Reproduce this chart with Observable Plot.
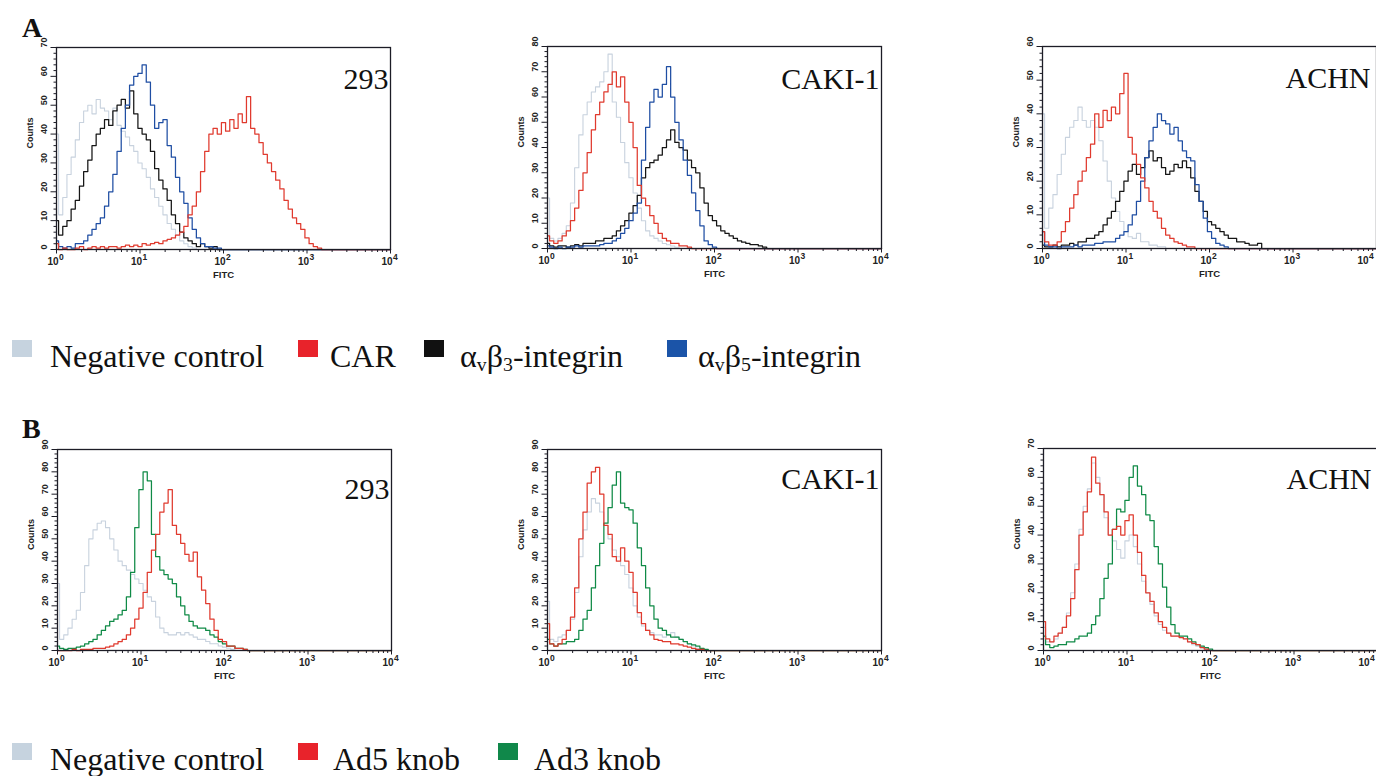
<!DOCTYPE html>
<html><head><meta charset="utf-8">
<script src="https://cdn.jsdelivr.net/npm/d3@7"></script>
<script src="https://cdn.jsdelivr.net/npm/@observablehq/plot@0.6"></script>
<style>
html,body{margin:0;padding:0;background:#fff;}
#fig{position:relative;width:1376px;height:776px;overflow:hidden;background:#fff;}
.panel{position:absolute;}
.panel svg{max-width:none !important;display:block;}
.tag{position:absolute;font-family:"Liberation Serif","Times New Roman",serif;font-weight:bold;font-size:28px;line-height:1;color:#111;}
.leg{position:absolute;font-family:"Liberation Serif","Times New Roman",serif;font-size:32px;line-height:1;color:#111;white-space:nowrap;}
.sw{position:absolute;width:20px;height:17px;}
.leg sub{font-size:0.62em;vertical-align:-0.22em;line-height:0;}
</style></head>
<body><div id="fig"></div>
<script>
// FITC channel values (log-spaced channels, 20 per decade)
const channels = [1,1.122,1.259,1.413,1.585,1.778,1.995,2.239,2.512,2.818,3.162,3.548,3.981,4.467,5.012,5.623,6.31,7.079,7.943,8.913,
  10,11.22,12.59,14.13,15.85,17.78,19.95,22.39,25.12,28.18,31.62,35.48,39.81,44.67,50.12,56.23,63.1,70.79,79.43,89.13,
  100,112.2,125.9,141.3,158.5,177.8,199.5,223.9,251.2,281.8,316.2,354.8,398.1,446.7,501.2,562.3,631,707.9,794.3,891.3,
  1000,1122,1259,1413,1585,1778,1995,2239,2512,2818,3162,3548,3981,4467,5012,5623,6310,7079,7943,8913,10000];

// Panel A – 293
const a293Neg = [40,12,18,26,32,38,44,48,50,47,52,49,48,45,49,43,41,39,36,34,30,28,25,21,18,15,12,9,7,5,3,2,1,0.5];
const a293B3  = [10,5,8,10,14,17,22,27,31,36,40,42,45,43,48,50,52,49,55,47,42,40,38,34,28,24,21,17,12,9,6,4,3,2,1,2,1,0.5,1,0];
const a293B5  = [3,1,0.5,1,0.5,2,2,3,5,7,9,11,15,20,26,34,42,50,57,60,61,64,58,50,42,44,45,36,32,25,20,16,11,7,4,2,1,1,0.5,0.5,0];
const a293CAR = [2,0,0.5,0,0,0.5,1,0,0.5,1,0.5,1,0.5,1,1,0.5,1,1.5,1,1.5,1,2,1.5,2,2.5,2,3,3.5,4,5,6,8,12,15,20,27,34,40,42,40,44,41,45,42,47,44,53,42,40,37,33,30,27,24,21,17,14,11,9,7,4,2,1,0.5,0];
// Panel A – CAKI-1
const cakiNegA = [20,4,3,4,6,9,18,32,45,53,58,62,64,66,70,77,58,52,42,34,28,22,16,11,7,5,4,3,2,1.5,1,0.5,0];
const cakiB3   = [2,1,0.5,1,1,0.5,1,1.5,1,2,2,2,3,3,4,4,5,7,9,11,14,17,21,28,32,34,35,37,40,43,47,42,40,39,35,32,30,24,18,13,11,9,7,6,5,4,3,2.5,2,1.5,1.5,1,0.5,0];
const cakiB5   = [1,0.5,0,0.5,0,0.5,0.5,1,0.5,1,1,1,1,1.5,2,2,3,4,6,8,11,14,18,35,48,58,63,60,65,72,60,50,43,35,29,22,15,9,3,1.5,0.5,0];
const cakiCAR  = [5,3,2,3,5,7,11,16,23,30,38,47,53,58,62,65,70,64,68,58,50,40,25,20,17,13,10,6,4,3,2,2,1,1,0.5,0];
// Panel A – ACHN
const achnNegA = [40,6,12,16,22,28,33,36,38,42,38,36,38,36,32,26,20,15,11,8,5,3.5,3,4.5,2,2,1,1,0.5,0.5,0];
const achnB3   = [1,0.5,0.5,1,0.5,1,1,1.5,1,2,2,3,3,4,5,7,9,11,14,17,20,23,25,22,24,27,29,26,27,24,22,23,25,24,26,24,21,17,14,11,8,7,6,5,4,3,3,2,2,1.5,1,1,1.5,0];
const achnB5   = [5,1,0.5,0.5,0,0.5,0.5,0.5,1,0.5,1,1,1,1.5,1.5,2,2,2,3,4,5,7,10,14,20,27,32,36,40,38,37,34,36,32,29,27,26,19,14,9,5,3,1.5,1,0.5,0];
const achnCAR  = [5,2,1,1,2,5,8,12,16,20,23,27,31,40,36,41,38,42,40,46,52,33,28,25,21,18,14,11,9,6,4,3,2,1.5,1,0.5,0.5,0];
// Panel B – 293
const b293Neg = [30,5,7,10,14,18,26,38,50,54,57,58,55,50,45,40,38,36,34,32,30,27,24,22,15,10,8,7,7,8,7,8,7,6,5,5,4,3,3,2,1.5,1,0.5,0];
const b293Ad5 = [0,0,0,0,0.5,0,0.5,0.5,0.5,1,1,1,1.5,2,3,4,5,7,10,14,19,26,35,45,52,62,66,72,56,52,48,43,40,44,33,27,21,14,9,5,4,2,2,1,1,0.5,0];
const b293Ad3 = [2,1,0.5,1,1,1.5,2,3,4,5,7,9,11,13,14,16,18,24,35,55,72,80,76,52,42,36,34,32,30,24,20,16,13,11,10,10,9,7,6,4,3,2,2,1,1,0.5,0];
// Panel B – CAKI-1
const cakiNegB = [22,5,4,6,7,9,14,26,42,54,62,68,66,62,56,50,45,42,38,34,28,20,15,11,9,8,7,7,6,7,8,6,5,4,3,2,1,0.5,0];
const cakiAd5  = [12,3,2,3,5,9,15,28,50,62,75,80,82,70,56,52,42,40,46,40,35,26,17,12,9,7,5,4.5,4,4,3,3,2.5,2,1.5,1,0.5,0.5,0];
const cakiAd3  = [5,3,2,3,3,4,4,5,9,14,18,28,38,48,57,64,74,80,66,64,63,57,46,38,28,20,14,10,9,7,6,6,5,4,3,2.5,2,1,0.5,0];
// Panel B – ACHN
const achnNegB = [8,3,3,4,6,8,13,20,30,42,50,56,65,60,54,46,40,38,35,32,38,40,36,30,24,20,16,12,9,7,6,5,5,4.5,4,3,2,1.5,1,0.5,0];
const achnAd5  = [10,4,3,5,6,8,12,18,28,40,48,55,67,58,54,48,40,42,43,40,45,47,40,34,26,20,17,13,10,8,6,5,5,4.5,4,3,2.5,2,1,0.5,0];
const achnAd3  = [5,2,1,1.5,2,2,3,3,4,5,5,6,9,12,18,25,30,42,49,48,52,60,64,57,54,47,45,36,30,22,15,9,6,5,5,4,3,2,1.5,1,0.5,0];

// Axis ticks and labels
const xMajorTicks = [1, 10, 100, 1000, 10000];
const xExponents = ["0", "1", "2", "3", "4"];
const xMinorTicks = [2,3,4,5,6,7,8,9,20,30,40,50,60,70,80,90,200,300,400,500,600,700,800,900,2000,3000,4000,5000,6000,7000,8000,9000];
const yMaxA = {"293": 70, "CAKI-1": 80, "ACHN": 60};
const yMaxB = {"293": 90, "CAKI-1": 90, "ACHN": 70};

const legendA = ["Negative control", "CAR", "αvβ3-integrin", "αvβ5-integrin"];
const legendB = ["Negative control", "Ad5 knob", "Ad3 knob"];
const colors = {
  "Negative control": "#c8d2de",
  "CAR": "#e03a2e",
  "αvβ3-integrin": "#151515",
  "αvβ5-integrin": "#1f4ea3",
  "Ad5 knob": "#e03a2e",
  "Ad3 knob": "#0f8a46"
};
const swatchColors = {
  "Negative control": "#c6d3df",
  "CAR": "#e8232b", "αvβ3-integrin": "#111111", "αvβ5-integrin": "#1b54a8",
  "Ad5 knob": "#e8232b", "Ad3 knob": "#10884a"
};

const panels = [
  {cell: "293", ymax: yMaxA["293"], series: [["Negative control", a293Neg], ["αvβ3-integrin", a293B3], ["αvβ5-integrin", a293B5], ["CAR", a293CAR]],
   left: 56, top: 47, h: 202, labelDy: 41, labelDx: -2, edgeShift: 0},
  {cell: "CAKI-1", ymax: yMaxA["CAKI-1"], series: [["Negative control", cakiNegA], ["αvβ3-integrin", cakiB3], ["αvβ5-integrin", cakiB5], ["CAR", cakiCAR]],
   left: 547, top: 46, h: 202, labelDy: 42, labelDx: -2, edgeShift: 0},
  {cell: "ACHN", ymax: yMaxA["ACHN"], series: [["Negative control", achnNegA], ["αvβ3-integrin", achnB3], ["αvβ5-integrin", achnB5], ["CAR", achnCAR]],
   left: 1042, top: 46, h: 202, labelDy: 41, labelDx: -6, edgeShift: -10},
  {cell: "293", ymax: yMaxB["293"], series: [["Negative control", b293Neg], ["Ad3 knob", b293Ad3], ["Ad5 knob", b293Ad5]],
   left: 57, top: 449, h: 201, labelDy: 49, labelDx: -2, edgeShift: 0},
  {cell: "CAKI-1", ymax: yMaxB["CAKI-1"], series: [["Negative control", cakiNegB], ["Ad3 knob", cakiAd3], ["Ad5 knob", cakiAd5]],
   left: 547, top: 449, h: 201, labelDy: 39, labelDx: -2, edgeShift: 0},
  {cell: "ACHN", ymax: yMaxB["ACHN"], series: [["Negative control", achnNegB], ["Ad3 knob", achnAd3], ["Ad5 knob", achnAd5]],
   left: 1043, top: 448, h: 202, labelDy: 40, labelDx: -6, edgeShift: -10}
];

const fig = document.getElementById("fig");
const ML = 46, MR = 12, MT = 10, MB = 40, IW = 334;
const axisColor = "#1c1c26";

function tickLabels(ticks, exps, shift) {
  return [
    Plot.text(ticks, {x: d => d, text: () => "10", frameAnchor: "bottom", lineAnchor: "bottom", textAnchor: "end", dx: 2 + shift, dy: 15, fontSize: 10, fill: "#222"}),
    Plot.text(ticks, {x: d => d, text: (d, i) => exps[i], frameAnchor: "bottom", lineAnchor: "bottom", textAnchor: "start", dx: 2.5 + shift, dy: 10, fontSize: 8.5, fill: "#222"})
  ];
}

for (const p of panels) {
  const yMajor = d3.range(0, p.ymax + 1, 10);
  const yMinor = d3.range(0, p.ymax + 1, 2).filter(v => v % 10 !== 0);
  const lines = p.series.map(([name, vals]) =>
    Plot.line(channels.map((c, i) => ({x: c, y: vals[i] ?? 0})), {
      x: "x", y: "y", curve: "step", stroke: colors[name],
      strokeWidth: name === "Negative control" ? 1.1 : 1.25
    }));
  const W = ML + IW + MR, H = MT + p.h + MB;
  const chart = Plot.plot({
    width: W, height: H,
    marginLeft: ML, marginRight: MR, marginTop: MT, marginBottom: MB,
    x: {type: "log", domain: [1, 10000], axis: null},
    y: {domain: [0, p.ymax], axis: null},
    style: {background: "transparent", fontFamily: "'Liberation Sans', Arial, sans-serif", fontSize: "9px", fontWeight: "bold", overflow: "visible", color: "#222", maxWidth: "none"},
    marks: [
      ...lines,
      Plot.frame({stroke: axisColor, strokeWidth: 1.3}),
      Plot.axisX({ticks: xMinorTicks, tickSize: 3, tickFormat: () => "", label: null, stroke: axisColor}),
      Plot.axisX({ticks: xMajorTicks, tickSize: 4.5, tickFormat: () => "", label: null, stroke: axisColor}),
      ...tickLabels(xMajorTicks.slice(0, 4), xExponents.slice(0, 4), 0),
      ...tickLabels(xMajorTicks.slice(4), xExponents.slice(4), p.edgeShift),
      Plot.text(["FITC"], {frameAnchor: "bottom", lineAnchor: "bottom", dy: 28, fontSize: 9.5, fill: "#222"}),
      Plot.axisY({ticks: yMinor, tickSize: 2.5, tickFormat: () => "", label: null, stroke: axisColor}),
      Plot.axisY({ticks: yMajor, tickSize: 5.5, tickFormat: () => "", label: null, stroke: axisColor}),
      Plot.text(yMajor, {y: d => d, text: d => String(d), frameAnchor: "left", rotate: -90, dx: -12, fontSize: 9, fill: "#222"}),
      Plot.text(["Counts"], {frameAnchor: "left", rotate: -90, dx: -26, fontSize: 9, fill: "#222"}),
      Plot.text([p.cell], {frameAnchor: "top-right", textAnchor: "end", lineAnchor: "bottom", dx: p.labelDx, dy: p.labelDy,
        fontFamily: "'Liberation Serif', 'Times New Roman', serif", fontSize: 30, fontWeight: "normal", fill: "#111"})
    ]
  });
  const div = document.createElement("div");
  div.className = "panel";
  div.style.left = (p.left - ML) + "px";
  div.style.top = (p.top - MT) + "px";
  div.style.width = W + "px";
  div.style.height = H + "px";
  div.appendChild(chart);
  fig.appendChild(div);
}

// Panel tags
function tag(t, left, top) {
  const d = document.createElement("div");
  d.className = "tag"; d.textContent = t;
  d.style.left = left + "px"; d.style.top = top + "px";
  fig.appendChild(d);
}
tag("A", 22, 14);
tag("B", 22, 415);

// Legends
function legendHTML(name) {
  const m = name.match(/^α(v)β(\d)(.*)$/);
  if (m) return `α<sub>${m[1]}</sub>β<sub>${m[2]}</sub>${m[3]}`;
  return name;
}
function legend(items, swLefts, textLefts, swTop, textTop) {
  items.forEach((name, i) => {
    const s = document.createElement("div");
    s.className = "sw"; s.style.background = swatchColors[name];
    s.style.left = swLefts[i] + "px"; s.style.top = swTop + "px";
    fig.appendChild(s);
    const t = document.createElement("div");
    t.className = "leg"; t.innerHTML = legendHTML(name);
    t.style.left = textLefts[i] + "px"; t.style.top = textTop + "px";
    fig.appendChild(t);
  });
}
legend(legendA, [12, 298, 424, 667], [50, 330, 460, 698], 340, 340);
legend(legendB, [12, 298, 498], [50, 333, 534], 743, 743);
</script></body></html>
